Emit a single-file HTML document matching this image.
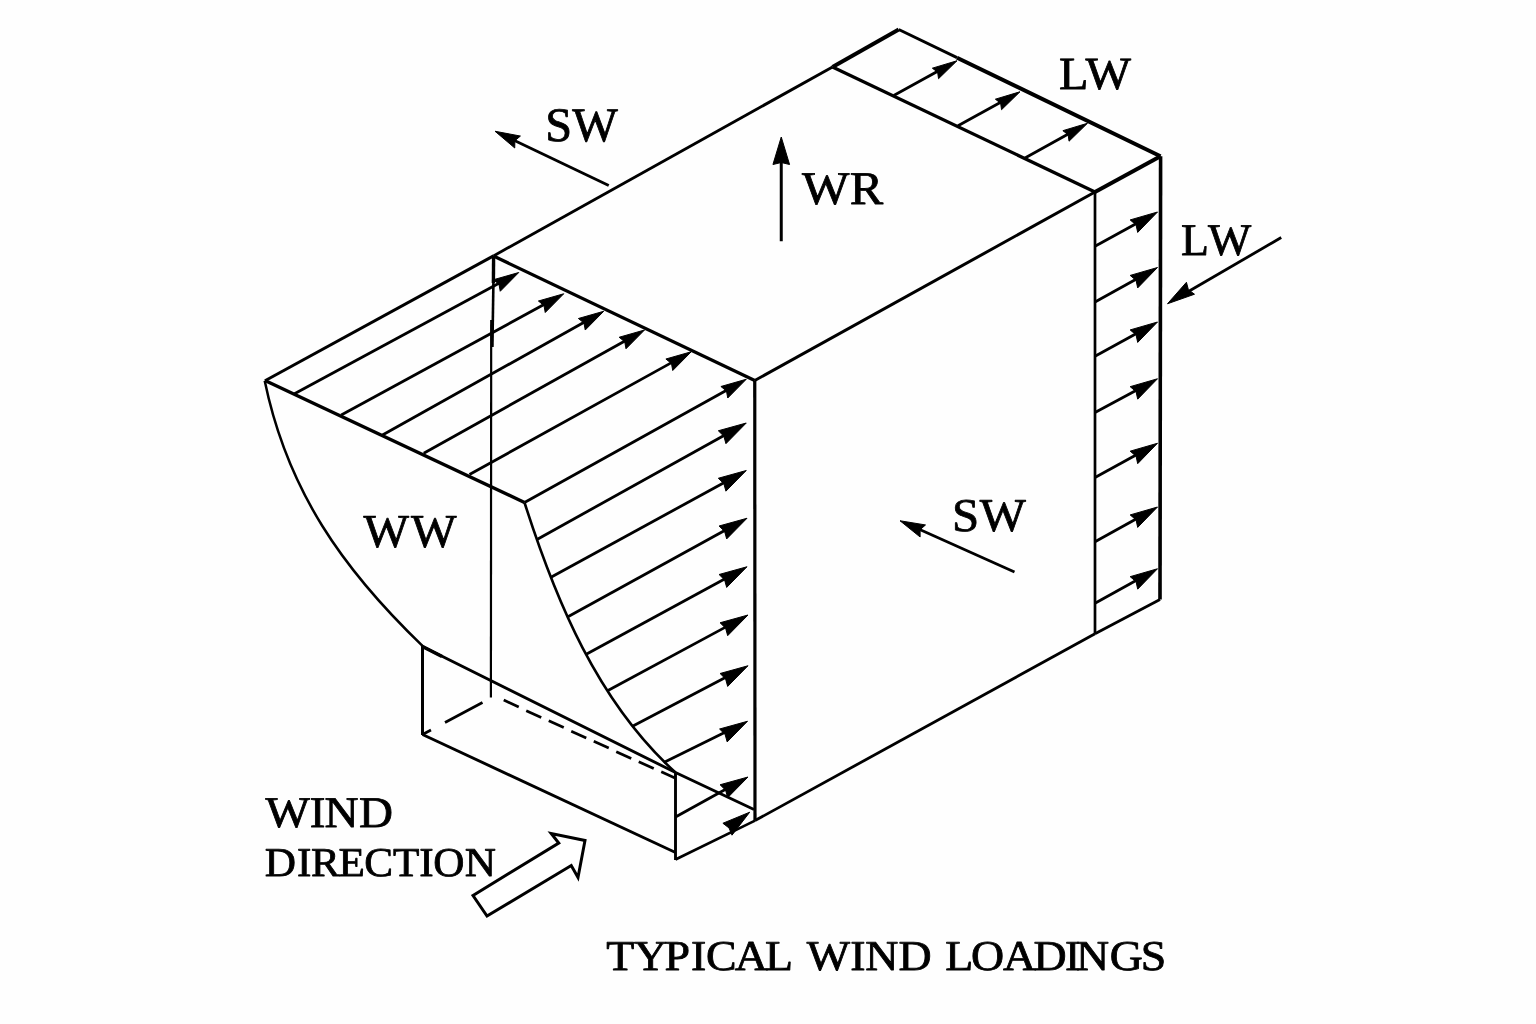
<!DOCTYPE html>
<html lang="en">
<head>
<meta charset="utf-8">
<title>Typical Wind Loadings</title>
<style>
html,body{margin:0;padding:0;background:#fefefe;width:1536px;height:1024px;overflow:hidden}
svg{display:block;will-change:transform;filter:grayscale(1)}
svg line,svg path,svg polygon{stroke:#000;stroke-linecap:butt}
svg text{font-family:"Liberation Serif","DejaVu Serif",serif;fill:#000;text-rendering:geometricPrecision}
</style>
</head>
<body>
<svg width="1536" height="1024" viewBox="0 0 1536 1024">
<rect x="0" y="0" width="1536" height="1024" fill="#fefefe" stroke="none"/>
<line x1="265.00" y1="380.80" x2="493.50" y2="255.90" stroke-width="3.0" stroke-linecap="round"/>
<line x1="493.50" y1="255.90" x2="832.50" y2="67.00" stroke-width="2.9" stroke-linecap="round"/>
<line x1="832.50" y1="67.00" x2="898.75" y2="29.50" stroke-width="4.0" stroke-linecap="round"/>
<line x1="898.75" y1="29.50" x2="957.00" y2="57.70" stroke-width="3.0" stroke-linecap="round"/>
<line x1="957.00" y1="57.70" x2="1160.50" y2="156.25" stroke-width="4.0" stroke-linecap="round"/>
<line x1="493.50" y1="256.00" x2="754.75" y2="380.50" stroke-width="3.2" stroke-linecap="round"/>
<line x1="754.75" y1="380.50" x2="1095.00" y2="192.00" stroke-width="3.0" stroke-linecap="round"/>
<line x1="1095.00" y1="192.00" x2="1160.50" y2="156.25" stroke-width="4.0" stroke-linecap="round"/>
<line x1="832.50" y1="67.00" x2="1095.00" y2="192.00" stroke-width="3.2" stroke-linecap="round"/>
<line x1="754.75" y1="380.50" x2="755.00" y2="820.60" stroke-width="3.2" stroke-linecap="round"/>
<line x1="1095.00" y1="192.00" x2="1095.00" y2="633.75" stroke-width="2.7" stroke-linecap="round"/>
<line x1="1160.60" y1="156.25" x2="1160.00" y2="599.50" stroke-width="3.6" stroke-linecap="round"/>
<line x1="755.00" y1="820.60" x2="1095.00" y2="633.75" stroke-width="2.8" stroke-linecap="round"/>
<line x1="1095.00" y1="633.75" x2="1160.00" y2="599.50" stroke-width="2.8" stroke-linecap="round"/>
<line x1="265.00" y1="380.50" x2="524.50" y2="502.50" stroke-width="3.4" />
<path d="M264.7,380.8 C287.3,490.43 342.81,569.3 422.5,645.8" stroke-width="2.5" fill="none" />
<path d="M421.5,645.6 L424,647.2 L675.5,772.5 L754,809.5" stroke-width="2.9" fill="none" stroke-linejoin="round"/>
<path d="M524.5,502.5 C555.79,600.68 597.76,702 675.5,772.5" stroke-width="2.6" fill="none" />
<line x1="493.60" y1="256.00" x2="493.40" y2="283.00" stroke-width="3.4" />
<line x1="493.40" y1="283.00" x2="492.40" y2="347.00" stroke-width="2.6" />
<line x1="491.20" y1="320.00" x2="490.90" y2="697.50" stroke-width="2.2" />
<line x1="422.50" y1="646.50" x2="442.00" y2="656.50" stroke-width="3.6" />
<line x1="422.50" y1="646.00" x2="422.50" y2="735.00" stroke-width="3.0" />
<line x1="422.50" y1="734.50" x2="675.50" y2="852.50" stroke-width="2.9" />
<line x1="675.50" y1="773.00" x2="675.50" y2="860.00" stroke-width="2.9" />
<path d="M422.5,734.5 L431,730 M445,722.5 L482.5,702.5" stroke-width="2.7" fill="none"/>
<line x1="503.75" y1="700.00" x2="518.75" y2="707.00" stroke-width="2.7" />
<line x1="526.25" y1="710.75" x2="541.25" y2="717.50" stroke-width="2.7" />
<line x1="548.75" y1="720.75" x2="563.75" y2="727.50" stroke-width="2.7" />
<line x1="571.25" y1="731.25" x2="586.25" y2="738.00" stroke-width="2.7" />
<line x1="593.75" y1="741.25" x2="608.75" y2="748.00" stroke-width="2.7" />
<line x1="616.25" y1="751.75" x2="631.25" y2="758.50" stroke-width="2.7" />
<line x1="638.75" y1="761.75" x2="653.75" y2="768.50" stroke-width="2.7" />
<line x1="661.25" y1="771.75" x2="675.00" y2="778.00" stroke-width="2.7" />
<line x1="294.50" y1="393.75" x2="499.40" y2="282.96" stroke-width="2.8" />
<polygon points="518.75,272.50 500.24,291.28 498.97,284.24 493.40,279.76" fill="#000" stroke="none"/>
<line x1="341.25" y1="415.00" x2="544.43" y2="304.28" stroke-width="2.8" />
<polygon points="563.75,293.75 545.24,312.53 543.97,305.49 538.40,301.01" fill="#000" stroke="none"/>
<line x1="382.50" y1="435.00" x2="584.55" y2="321.99" stroke-width="2.8" />
<polygon points="603.75,311.25 585.24,330.03 583.97,322.99 578.40,318.51" fill="#000" stroke="none"/>
<line x1="423.75" y1="453.25" x2="625.29" y2="340.72" stroke-width="2.8" />
<polygon points="644.50,330.00 625.99,348.78 624.72,341.74 619.15,337.26" fill="#000" stroke="none"/>
<line x1="469.50" y1="474.50" x2="672.00" y2="362.40" stroke-width="2.8" />
<polygon points="691.25,351.75 672.74,370.53 671.47,363.49 665.90,359.01" fill="#000" stroke="none"/>
<line x1="524.50" y1="502.50" x2="727.02" y2="389.94" stroke-width="2.8" />
<polygon points="746.25,379.25 727.74,398.03 726.47,390.99 720.90,386.51" fill="#000" stroke="none"/>
<line x1="537.00" y1="539.50" x2="724.41" y2="435.16" stroke-width="2.8" />
<polygon points="746.25,423.00 725.93,443.67 723.85,436.20 718.32,430.75" fill="#000" stroke="none"/>
<line x1="550.50" y1="577.50" x2="724.31" y2="482.49" stroke-width="2.8" />
<polygon points="746.25,470.50 725.93,491.17 723.85,483.70 718.32,478.25" fill="#000" stroke="none"/>
<line x1="567.50" y1="617.00" x2="725.10" y2="530.30" stroke-width="2.8" />
<polygon points="747.00,518.25 726.68,538.92 724.60,531.45 719.07,526.00" fill="#000" stroke="none"/>
<line x1="586.25" y1="654.25" x2="725.04" y2="578.70" stroke-width="2.8" />
<polygon points="747.00,566.75 726.68,587.42 724.60,579.95 719.07,574.50" fill="#000" stroke="none"/>
<line x1="607.50" y1="690.75" x2="725.99" y2="626.86" stroke-width="2.8" />
<polygon points="748.00,615.00 727.68,635.67 725.60,628.20 720.07,622.75" fill="#000" stroke="none"/>
<line x1="632.50" y1="726.25" x2="725.85" y2="677.35" stroke-width="2.8" />
<polygon points="748.00,665.75 727.68,686.42 725.60,678.95 720.07,673.50" fill="#000" stroke="none"/>
<line x1="663.75" y1="762.50" x2="725.07" y2="732.30" stroke-width="2.8" />
<polygon points="747.50,721.25 727.18,741.92 725.10,734.45 719.57,729.00" fill="#000" stroke="none"/>
<line x1="675.50" y1="817.00" x2="726.11" y2="789.08" stroke-width="2.8" />
<polygon points="748.00,777.00 727.68,797.67 725.60,790.20 720.07,784.75" fill="#000" stroke="none"/>
<line x1="675.50" y1="859.50" x2="755.00" y2="820.60" stroke-width="2.7" />
<polygon points="749.70,812.20 732.01,835.16 729.05,827.99 722.90,823.25" fill="#000" stroke="none"/>
<line x1="893.75" y1="95.50" x2="938.16" y2="71.10" stroke-width="2.8" />
<polygon points="957.00,60.75 938.56,78.69 937.61,72.17 932.36,68.18" fill="#000" stroke="none"/>
<line x1="958.00" y1="125.75" x2="1001.15" y2="102.09" stroke-width="2.8" />
<polygon points="1020.00,91.75 1001.56,109.69 1000.61,103.17 995.36,99.18" fill="#000" stroke="none"/>
<line x1="1025.00" y1="158.00" x2="1068.71" y2="133.70" stroke-width="2.8" />
<polygon points="1087.50,123.25 1069.06,141.19 1068.11,134.67 1062.86,130.68" fill="#000" stroke="none"/>
<line x1="1095.00" y1="246.25" x2="1136.45" y2="223.53" stroke-width="2.8" />
<polygon points="1157.50,212.00 1137.69,232.42 1136.07,224.88 1130.17,219.91" fill="#000" stroke="none"/>
<line x1="1095.00" y1="302.00" x2="1136.49" y2="279.10" stroke-width="2.8" />
<polygon points="1157.50,267.50 1137.69,287.92 1136.07,280.38 1130.17,275.41" fill="#000" stroke="none"/>
<line x1="1095.00" y1="356.25" x2="1136.45" y2="333.53" stroke-width="2.8" />
<polygon points="1157.50,322.00 1137.69,342.42 1136.07,334.88 1130.17,329.91" fill="#000" stroke="none"/>
<line x1="1095.00" y1="412.50" x2="1136.38" y2="390.15" stroke-width="2.8" />
<polygon points="1157.50,378.75 1137.69,399.17 1136.07,391.63 1130.17,386.66" fill="#000" stroke="none"/>
<line x1="1095.00" y1="477.50" x2="1136.45" y2="454.78" stroke-width="2.8" />
<polygon points="1157.50,443.25 1137.69,463.67 1136.07,456.13 1130.17,451.16" fill="#000" stroke="none"/>
<line x1="1095.00" y1="541.75" x2="1136.52" y2="518.66" stroke-width="2.8" />
<polygon points="1157.50,507.00 1137.69,527.42 1136.07,519.88 1130.17,514.91" fill="#000" stroke="none"/>
<line x1="1095.00" y1="603.25" x2="1136.49" y2="580.35" stroke-width="2.8" />
<polygon points="1157.50,568.75 1137.69,589.17 1136.07,581.63 1130.17,576.66" fill="#000" stroke="none"/>
<line x1="608.75" y1="185.50" x2="513.95" y2="140.29" stroke-width="2.8" />
<polygon points="495.00,131.25 520.41,136.05 514.86,140.72 514.72,147.97" fill="#000" stroke="none"/>
<line x1="1014.50" y1="572.00" x2="919.17" y2="529.33" stroke-width="2.8" />
<polygon points="900.00,520.75 925.51,524.94 920.08,529.74 920.12,536.99" fill="#000" stroke="none"/>
<line x1="781.25" y1="241.25" x2="781.25" y2="161.50" stroke-width="3.0" />
<polygon points="781.25,137.00 789.55,164.50 781.25,162.50 772.95,164.50" fill="#000" stroke="none"/>
<line x1="1281.25" y1="237.50" x2="1188.41" y2="291.57" stroke-width="2.8" />
<polygon points="1167.50,303.75 1186.44,282.29 1188.39,289.66 1194.49,294.23" fill="#000" stroke="none"/>
<polygon points="473,895.5 558.75,843 551.25,833.5 585,840.5 578,877.5 571.25,865.5 487,916" fill="#fff" stroke-width="3.0" stroke-linejoin="miter"/>
<text transform="scale(1.005,1)" x="542.53 569.45" y="140.78" font-size="48.06" stroke="#000" stroke-width="0.8" stroke-linejoin="round">SW</text>
<text transform="scale(1.07,1)" x="749.53 794.20" y="204.20" font-size="46.87" stroke="#000" stroke-width="0.8" stroke-linejoin="round">WR</text>
<text transform="scale(1.045,1)" x="1013.35 1038.66" y="89.25" font-size="46.11" stroke="#000" stroke-width="0.8" stroke-linejoin="round">LW</text>
<text transform="scale(1.01,1)" x="1169.23 1195.94" y="254.55" font-size="45.34" stroke="#000" stroke-width="0.8" stroke-linejoin="round">LW</text>
<text transform="scale(1.04,1)" x="915.49 942.12" y="531.15" font-size="46.94" stroke="#000" stroke-width="0.8" stroke-linejoin="round">SW</text>
<text transform="scale(1.02,1)" x="356.37 402.94" y="547.39" font-size="47.31" stroke="#000" stroke-width="0.8" stroke-linejoin="round">WW</text>
<text transform="scale(1.075,1)" x="246.88 288.14 301.94 333.94" y="826.85" font-size="43.76" stroke="#000" stroke-width="0.8" stroke-linejoin="round">WIND</text>
<text transform="scale(1.055,1)" x="250.90 281.50 294.79 320.76 345.28 372.55 397.33 410.59 440.48" y="876.30" font-size="40.96" stroke="#000" stroke-width="0.8" stroke-linejoin="round">DIRECTION</text>
<text transform="scale(1.08,1)" x="561.29 586.98 615.21 639.86 653.77 680.27 708.36 732.97 746.90 787.31 801.18 831.87 862.12 875.25 899.14 928.74 956.87 986.15 996.23 1027.61 1056.30" y="970.30" font-size="42.44" stroke="#000" stroke-width="0.8" stroke-linejoin="round">TYPICAL WIND LOADINGS</text>
</svg>
</body>
</html>
